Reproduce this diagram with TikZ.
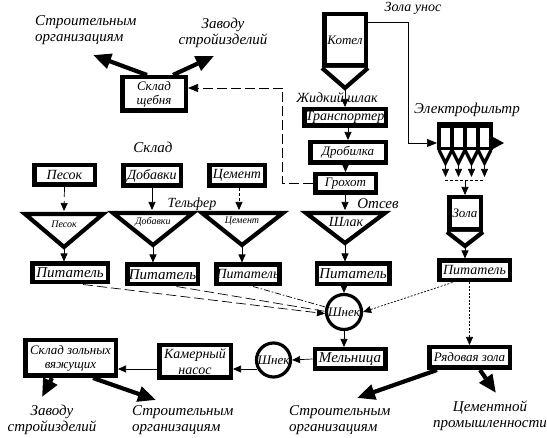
\documentclass[tikz,border=0pt]{standalone}
\usepackage{fontspec}
\setmainfont{Liberation Serif}
\usetikzlibrary{arrows.meta}
\begin{document}
\begin{tikzpicture}[x=1pt,y=-1pt,
 box/.style={draw,line width=4.5pt,fill=white,inner sep=0pt,align=center},
 circ/.style={draw,circle,line width=3.2pt,fill=white,inner sep=0pt},
 tri/.style={draw,line width=4.2pt,fill=white,line join=miter},
 fn/.style={draw,line width=4.2pt,line join=miter},
 f15/.style={font=\itshape\fontsize{15}{16}\selectfont},
 f14/.style={font=\itshape\fontsize{14}{16}\selectfont},
 f13/.style={font=\itshape\fontsize{13}{14}\selectfont},
 f12/.style={font=\itshape\fontsize{12}{13}\selectfont},
 f10/.style={font=\itshape\fontsize{10}{11}\selectfont},
 lbl/.style={inner sep=0pt,align=center},
 arr/.style={-{Triangle[length=8pt,width=7pt]},line width=0.7pt},
 tip/.style={-{Triangle[length=8pt,width=7pt]}},
 big/.style={-{Triangle[length=18pt,width=15pt]},line width=4.2pt},
 ldash/.style={dash pattern=on 10pt off 4pt,line width=0.7pt},
 dshort/.style={dash pattern=on 3pt off 2pt,line width=0.7pt},
 dashdot/.style={dash pattern=on 6pt off 2pt on 1.5pt off 2pt,line width=0.7pt},
 dots/.style={dash pattern=on 2pt off 1.5pt,line width=0.7pt}
]
\useasboundingbox (0,0) rectangle (547,438);

% ---------- boxes ----------
\node[box,f13,minimum width=41.5pt,minimum height=51.5pt] (kotel) at (345,40) {Котел};
\node[box,f14,minimum width=81.5pt,minimum height=16.5pt] (trans) at (345,117.5) {Транспортер};
\node[box,f13,minimum width=75.5pt,minimum height=20.5pt] (drob) at (348,152.5) {Дробилка};
\node[box,f13,minimum width=60.5pt,minimum height=18.5pt] (groh) at (345.5,183.5) {Грохот};
\node[box,f15,minimum width=72.5pt,minimum height=20.5pt] (pit4) at (353,274) {Питатель};
\node[box,f15,minimum width=70.5pt,minimum height=19.5pt] (mel) at (350,359) {Мельница};
\node[box,f14,minimum width=71.5pt,minimum height=32.5pt] (kam) at (195,361.5) {Камерный\\насос};
\node[box,f13,minimum width=90.5pt,minimum height=35.5pt] (skz) at (70.5,358) {Склад зольных\\вяжущих};
\node[box,f13,minimum width=80.5pt,minimum height=20.5pt] (ryad) at (469.5,357.5) {Рядовая зола};
\node[box,f14,minimum width=70.5pt,minimum height=19.5pt] (pitz) at (474.5,270.5) {Питатель};
\node[box,f13,minimum width=31.5pt,minimum height=32.5pt] (zola) at (465,213.5) {Зола};
\node[box,f13,minimum width=63.5pt,minimum height=33.5pt] (sksch) at (154,94) {Склад\\щебня};
\node[box,f14,minimum width=60.5pt,minimum height=19.5pt] (pes) at (64.5,175) {Песок};
\node[box,f14,minimum width=57.5pt,minimum height=20.5pt] (dob) at (152,175.5) {Добавки};
\node[box,f14,minimum width=55.5pt,minimum height=20.5pt] (cem) at (237,175.5) {Цемент};
\node[box,f15,minimum width=75.5pt,minimum height=18.5pt] (pit1) at (70,273) {Питатель};
\node[box,f15,minimum width=70.5pt,minimum height=19.5pt] (pit2) at (162.5,274.5) {Питатель};
\node[box,f14,minimum width=62.5pt,minimum height=19.5pt] (pit3) at (248,274.5) {Питатель};

\node[circ,f13,minimum size=35pt] (shnek) at (344,312) {Шнек};
\node[circ,f13,minimum size=34pt] (shnek2) at (273.5,360) {Шнек};

% ---------- funnels ----------
\draw[fn,fill=white] (kotel.south west) -- (345,88) -- (kotel.south east);
\coordinate (kapex) at (345,90);
\draw[fn,fill=white] (zola.south west) -- (465,246) -- (zola.south east);
\coordinate (zapex) at (465,248);

% ---------- triangles (bunkers) ----------
\draw[tri] (25,214) -- (103,214) -- (64,247) -- cycle;
\draw[tri] (113,213) -- (193,213) -- (153,245) -- cycle;
\draw[tri] (202,213) -- (283,213) -- (242,245) -- cycle;
\draw[tri] (306,213) -- (385,213) -- (345,243) -- cycle;
\coordinate (t1top) at (64,211); \coordinate (t1ap) at (64,249);
\coordinate (t2top) at (152,210); \coordinate (t2ap) at (153,247);
\coordinate (t3top) at (239,210); \coordinate (t3ap) at (242,247);
\coordinate (t4top) at (345,210); \coordinate (t4ap) at (345,245);
\node[lbl,f10] (lt1) at (64,224) {Песок};
\node[lbl,f10] (lt2) at (153,222) {Добавки};
\node[lbl,f10] (lt3) at (242,221) {Цемент};
\node[lbl,f14] (lt4) at (346,222) {Шлак};

% ---------- electrofilter ----------
\fill (437,122) rectangle (493,150);
\foreach \a in {441,454,467,480}{\fill[white] (\a,128) rectangle (\a+9,147);}
\foreach \c in {445.5,458.5,471.5,484.5}{
  \draw[line width=3.2pt,line join=miter] (\c-6.5,150) -- (\c,163) -- (\c+6.5,150);
  \draw[arr] (\c,165) -- (\c,177);}
\draw[dshort] (445,180) -- (485,180);
\coordinate (efmid) at (465,180);
\coordinate (efin) at (437,143);
\fill (493,137) -- (504,143) -- (493,149) -- cycle;

% ---------- texts ----------
\node[lbl,f14] (tzu) at (413,8) {Зола унос};
\node[lbl,f14] (tzh) at (337,98) {Жидкий шлак};
\node[lbl,f15] (tel) at (467,110) {Электрофильтр};
\node[lbl,f15] (tots) at (378,204) {Отсев};
\node[lbl,f14] (ttel) at (192,204) {Тельфер};
\node[lbl,f15] (tskl) at (153,147) {Склад};
\node[lbl,f15,align=left,anchor=west] (d1t) at (35,30) {Строительным\\организациям};
\node[lbl,f15] (d2t) at (223,33) {Заводу\\стройизделий};
\node[lbl,f15] (d3t) at (52,420) {Заводу\\стройизделий};
\node[lbl,f15,align=left,anchor=west] (d4t) at (132,420) {Строительным\\организациям};
\node[lbl,f15,align=left,anchor=west] (d5t) at (289,420) {Строительным\\организациям};
\node[lbl,f15] (d6t) at (490,416) {Цементной\\промышленности};

% ---------- connectors ----------
\draw[arr] (kapex) -- (trans.north);
\draw[arr] (trans.south -| drob.north) -- (drob.north);
\draw[arr] (drob.south -| groh.north) -- (groh.north);
\draw[arr] (groh.south -| t4top) -- (t4top);
\draw[arr] (t4ap) -- (t4ap |- pit4.north);
\draw[arr] (pit4.south -| shnek.north) -- (shnek.north);
\draw[arr] (shnek.south) -- (shnek.south |- mel.north);
\draw[arr] (mel.west) -- (shnek2.east);
\draw[arr] (shnek2.209) -- (shnek2.209 -| kam.east);
\coordinate (kw) at ([yshift=-7.5pt]kam.west);
\draw[arr] (kw) -- (kw -| skz.east);

\draw[ldash,tip] (pes.south) -- (t1top);
\draw[arr] (dob.south -| t2top) -- (t2top);
\draw[dshort,tip] (cem.south -| t3top) -- (t3top);
\draw[arr] (t1ap) -- (t1ap |- pit1.north);
\draw[arr] (t2ap) -- (t2ap |- pit2.north);
\draw[arr] (t3ap) -- (t3ap |- pit3.north);

\draw[ldash,tip] ([xshift=13pt]pit1.south) -- (shnek.185);
\draw[ldash] ([xshift=14pt]pit2.south) -- (shnek.178);
\draw[dashdot] ([xshift=5pt]pit3.south) -- (shnek.165);
\draw[dots,tip] ([xshift=-22pt]pitz.south) -- (shnek.east);
\draw[dots,tip] (pitz.south -| ryad.north) -- (ryad.north);

\draw[arr] (zapex) -- (zapex |- pitz.north);
\draw[arr] (efmid) -- (zola.north);
\coordinate (kout) at ([yshift=18pt]kotel.east);
\draw[line width=0.7pt,-{Triangle[length=10pt,width=8pt]}] (kout) -- (408,22) -- (408,143) -- (efin);

\draw[ldash,-{Triangle[length=10pt,width=8pt]}] (groh.west) -- ++(-31,0) |- ([yshift=6pt]sksch.east);

% ---------- thick output arrows ----------
\coordinate (a1) at (93,55); \coordinate (a2) at (214,56);
\coordinate (a3) at (42,397); \coordinate (a4) at (156,400);
\coordinate (a5) at (357,398); \coordinate (a6) at (496,393);
\draw[big] ([xshift=-7pt]sksch.north) -- (a1);
\draw[big] ([xshift=19pt]sksch.north) -- (a2);
\draw[big] ([xshift=-18.5pt]skz.south) -- (a3);
\draw[big] ([xshift=22.5pt]skz.south) -- (a4);
\draw[big] ([xshift=-32.5pt]ryad.south) -- (a5);
\draw[big] ([xshift=10.5pt]ryad.south) -- (a6);
\end{tikzpicture}
\end{document}
